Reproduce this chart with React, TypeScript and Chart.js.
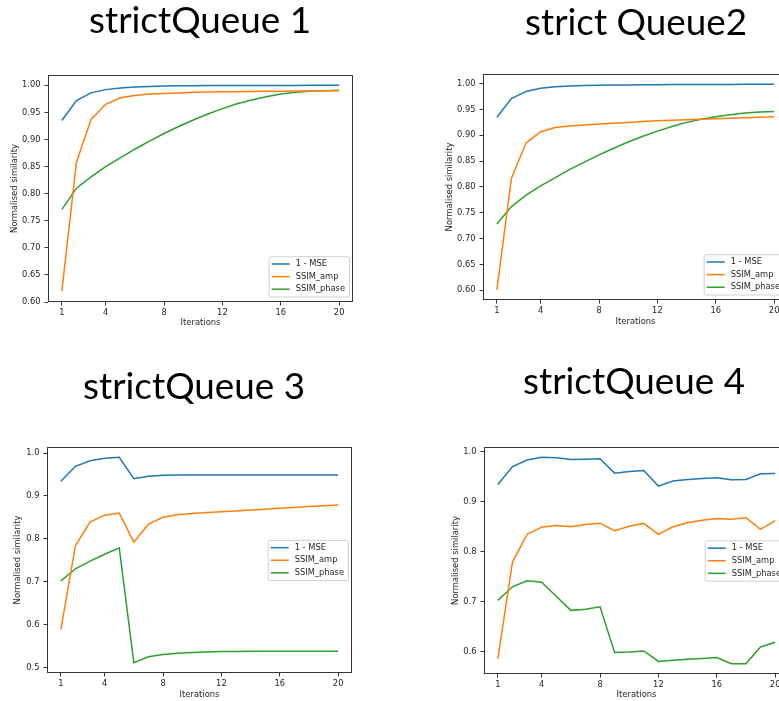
import React, { useEffect, useRef } from "react";
import { Chart, registerables } from "chart.js";

Chart.register(...registerables);

// ---------- data ----------
const iterations = [1, 2, 3, 4, 5, 6, 7, 8, 9, 10, 11, 12, 13, 14, 15, 16, 17, 18, 19, 20];
const xTickValues = [1, 4, 8, 12, 16, 20];
const seriesLabels = ["1 - MSE", "SSIM_amp", "SSIM_phase"];
const seriesColors = ["#1f77b4", "#ff7f0e", "#2ca02c"];
const chartTitles = ["strictQueue 1", "strict Queue2", "strictQueue 3", "strictQueue 4"];
const yAxisTitle = "Normalised similarity";
const xAxisTitle = "Iterations";

const q1Mse = [0.935, 0.972, 0.986, 0.992, 0.995, 0.997, 0.998, 0.9985, 0.999, 0.9992, 0.9994, 0.9995, 0.9996, 0.9997, 0.9997, 0.9998, 0.9998, 0.9999, 0.9999, 0.9999];
const q1Amp = [0.62, 0.858, 0.937, 0.965, 0.977, 0.981, 0.984, 0.985, 0.986, 0.987, 0.9875, 0.988, 0.9883, 0.9886, 0.9889, 0.9891, 0.9893, 0.9895, 0.9897, 0.99];
const q1Phase = [0.771, 0.81, 0.831, 0.85, 0.866, 0.882, 0.897, 0.911, 0.924, 0.936, 0.947, 0.957, 0.966, 0.973, 0.979, 0.984, 0.987, 0.989, 0.99, 0.991];

const q2Mse = [0.935, 0.971, 0.985, 0.991, 0.994, 0.9955, 0.9963, 0.997, 0.9973, 0.9976, 0.9978, 0.998, 0.9982, 0.9983, 0.9984, 0.9985, 0.9986, 0.9987, 0.9987, 0.9988];
const q2Amp = [0.601, 0.817, 0.885, 0.907, 0.915, 0.918, 0.92, 0.922, 0.9235, 0.925, 0.9265, 0.928, 0.929, 0.93, 0.931, 0.932, 0.933, 0.934, 0.935, 0.936];
const q2Phase = [0.728, 0.762, 0.784, 0.802, 0.818, 0.834, 0.848, 0.862, 0.875, 0.887, 0.898, 0.908, 0.917, 0.925, 0.931, 0.936, 0.94, 0.943, 0.945, 0.946];

const q3Mse = [0.934, 0.969, 0.982, 0.988, 0.99, 0.94, 0.946, 0.948, 0.9485, 0.9487, 0.9487, 0.9487, 0.9486, 0.9486, 0.9486, 0.9485, 0.9485, 0.9485, 0.9485, 0.9485];
const q3Amp = [0.589, 0.784, 0.839, 0.855, 0.86, 0.792, 0.834, 0.85, 0.856, 0.859, 0.861, 0.863, 0.865, 0.867, 0.869, 0.871, 0.873, 0.875, 0.877, 0.879];
const q3Phase = [0.702, 0.73, 0.748, 0.764, 0.779, 0.511, 0.525, 0.53, 0.533, 0.535, 0.536, 0.537, 0.537, 0.538, 0.538, 0.538, 0.538, 0.538, 0.538, 0.538];

const q4Mse = [0.934, 0.97, 0.983, 0.9887, 0.9874, 0.984, 0.9847, 0.9854, 0.9568, 0.96, 0.962, 0.931, 0.941, 0.944, 0.946, 0.9475, 0.9435, 0.944, 0.9555, 0.956];
const q4Amp = [0.5867, 0.7794, 0.8346, 0.849, 0.8525, 0.8498, 0.8545, 0.857, 0.842, 0.851, 0.8565, 0.8346, 0.8498, 0.858, 0.863, 0.8664, 0.865, 0.8678, 0.8445, 0.862];
const q4Phase = [0.703, 0.73, 0.742, 0.739, 0.711, 0.683, 0.685, 0.69, 0.599, 0.6, 0.602, 0.581, 0.5834, 0.5854, 0.587, 0.589, 0.5767, 0.5767, 0.61, 0.6193];

const yTicksFine = [0.6, 0.65, 0.7, 0.75, 0.8, 0.85, 0.9, 0.95, 1.0];
const yTicksQ3 = [0.5, 0.6, 0.7, 0.8, 0.9, 1.0];
const yTicksQ4 = [0.6, 0.7, 0.8, 0.9, 1.0];

// ---------- styling / layout ----------
const TICK_FONT = 8.3;
const TITLE_FONT = 8.4;
const LEG_FONT = 8.3;
const TEXT_COLOR = "#262626";
const AXIS_COLOR = "#353535";

type Rect = { l: number; t: number; w: number; h: number };
type Plot = { l: number; t: number; r: number; b: number };

type PanelCfg = {
  title: string;
  titleCx: number;
  titleBase: number;
  titleW: number;
  canvas: Rect;
  plot: Plot;
  yTitleX: number;
  xTitleY: number;
  yMin: number;
  yMax: number;
  yTicks: number[];
  decimals: number;
  series: number[][];
  legendLoc: "lower right" | "center right";
};

const panels: PanelCfg[] = [
  {
    title: chartTitles[0], titleCx: 200, titleBase: 33, titleW: 222,
    canvas: { l: 0, t: 60, w: 390, h: 280 },
    plot: { l: 48, t: 75, r: 353, b: 302 },
    yTitleX: 15, xTitleY: 323,
    yMin: 0.6, yMax: 1.019, yTicks: yTicksFine, decimals: 2,
    series: [q1Mse, q1Amp, q1Phase], legendLoc: "lower right",
  },
  {
    title: chartTitles[1], titleCx: 636, titleBase: 35, titleW: 222,
    canvas: { l: 390, t: 60, w: 420, h: 280 },
    plot: { l: 483, t: 74, r: 788, b: 300 },
    yTitleX: 450, xTitleY: 322,
    yMin: 0.581, yMax: 1.0187, yTicks: yTicksFine, decimals: 2,
    series: [q2Mse, q2Amp, q2Phase], legendLoc: "lower right",
  },
  {
    title: chartTitles[2], titleCx: 194, titleBase: 399, titleW: 222,
    canvas: { l: 0, t: 430, w: 390, h: 280 },
    plot: { l: 47, t: 447, r: 352, b: 673 },
    yTitleX: 18, xTitleY: 695,
    yMin: 0.487, yMax: 1.014, yTicks: yTicksQ3, decimals: 1,
    series: [q3Mse, q3Amp, q3Phase], legendLoc: "center right",
  },
  {
    title: chartTitles[3], titleCx: 634, titleBase: 394, titleW: 222,
    canvas: { l: 390, t: 430, w: 420, h: 280 },
    plot: { l: 484, t: 447, r: 789, b: 674 },
    yTitleX: 456, xTitleY: 695,
    yMin: 0.556, yMax: 1.009, yTicks: yTicksQ4, decimals: 1,
    series: [q4Mse, q4Amp, q4Phase], legendLoc: "center right",
  },
];

const framePlugin = {
  id: "mplFrame",
  afterDatasetsDraw(chart: any) {
    const { ctx, chartArea: a } = chart;
    ctx.save();
    ctx.strokeStyle = AXIS_COLOR;
    ctx.lineWidth = 1;
    ctx.strokeRect(Math.round(a.left) + 0.5, Math.round(a.top) + 0.5, Math.round(a.right - a.left) - 1, Math.round(a.bottom - a.top) - 1);
    ctx.restore();
  },
};

function makeLegendPlugin(loc: string) {
  return {
    id: "mplLegend",
    afterDraw(chart: any) {
      const { ctx, chartArea: a } = chart;
      const ds = chart.data.datasets;
      ctx.save();
      ctx.font = `${LEG_FONT}px "DejaVu Sans"`;
      const maxW = Math.max(...ds.map((d: any) => ctx.measureText(d.label).width));
      const padL = 3, lineLen = 18, gap = 6, padR = 4;
      const rowH = 12.6;
      const w = padL + lineLen + gap + maxW + padR;
      const h = ds.length * rowH + 2.5;
      const x = a.right - 4 - w;
      const y = loc === "lower right" ? a.bottom - 5.5 - h : (a.top + a.bottom) / 2 - h / 2;
      ctx.beginPath();
      ctx.roundRect(x + 0.5, y + 0.5, w, h, 2);
      ctx.fillStyle = "rgba(255,255,255,0.85)";
      ctx.fill();
      ctx.strokeStyle = "#d0d0d0";
      ctx.lineWidth = 1;
      ctx.stroke();
      ds.forEach((d: any, i: number) => {
        const cy = y + 1.5 + rowH * (i + 0.5);
        ctx.beginPath();
        ctx.moveTo(x + padL, cy);
        ctx.lineTo(x + padL + lineLen, cy);
        ctx.strokeStyle = d.borderColor;
        ctx.lineWidth = 1.5;
        ctx.stroke();
        ctx.fillStyle = TEXT_COLOR;
        ctx.textBaseline = "middle";
        ctx.textAlign = "left";
        ctx.fillText(d.label, x + padL + lineLen + gap, cy);
      });
      ctx.restore();
    },
  };
}

function Panel({ cfg }: { cfg: PanelCfg }) {
  const ref = useRef<HTMLCanvasElement | null>(null);
  useEffect(() => {
    const c = cfg.canvas;
    const p = cfg.plot;
    const lh = TITLE_FONT * 1.2;
    const canvasR = c.l + c.w;
    const canvasB = c.t + c.h;
    const chart = new Chart(ref.current as HTMLCanvasElement, {
      type: "line",
      data: {
        datasets: cfg.series.map((s, i) => ({
          label: seriesLabels[i],
          data: iterations.map((x, j) => ({ x, y: s[j] })),
          borderColor: seriesColors[i],
          backgroundColor: seriesColors[i],
          borderWidth: 1.5,
          pointRadius: 0,
          tension: 0,
          fill: false,
        })),
      },
      options: {
        animation: false,
        responsive: false,
        events: [],
        layout: { padding: { left: 0, top: p.t - c.t, right: canvasR - p.r, bottom: 0 } },
        plugins: { legend: { display: false }, tooltip: { enabled: false }, title: { display: false } },
        scales: {
          x: {
            type: "linear",
            min: 0.05,
            max: 20.95,
            afterBuildTicks: (s: any) => { s.ticks = xTickValues.map((v) => ({ value: v })); },
            afterFit: (s: any) => { s.height = canvasB - p.b; },
            border: { display: false },
            grid: { display: true, drawOnChartArea: false, drawTicks: true, tickLength: 3.5, color: AXIS_COLOR, tickColor: AXIS_COLOR },
            ticks: { autoSkip: false, maxRotation: 0, padding: 2.5, color: TEXT_COLOR, font: { family: "DejaVu Sans", size: TICK_FONT }, callback: (v: any) => String(v) },
            title: { display: true, text: xAxisTitle, color: TEXT_COLOR, font: { family: "DejaVu Sans", size: TITLE_FONT }, padding: { top: 0, bottom: canvasB - cfg.xTitleY - lh / 2 } },
          },
          y: {
            type: "linear",
            min: cfg.yMin,
            max: cfg.yMax,
            afterBuildTicks: (s: any) => { s.ticks = cfg.yTicks.map((v) => ({ value: v })); },
            afterFit: (s: any) => { s.width = p.l - c.l; },
            border: { display: false },
            grid: { display: true, drawOnChartArea: false, drawTicks: true, tickLength: 3.5, color: AXIS_COLOR, tickColor: AXIS_COLOR },
            ticks: { padding: 4, color: TEXT_COLOR, font: { family: "DejaVu Sans", size: TICK_FONT }, callback: (v: any) => Number(v).toFixed(cfg.decimals) },
            title: { display: true, text: yAxisTitle, color: TEXT_COLOR, font: { family: "DejaVu Sans", size: TITLE_FONT }, padding: { top: cfg.yTitleX - c.l - lh / 2, bottom: 0 } },
          },
        },
      },
      plugins: [framePlugin, makeLegendPlugin(cfg.legendLoc)],
    } as any);
    return () => chart.destroy();
  }, [cfg]);
  return (
    <canvas
      ref={ref}
      width={cfg.canvas.w}
      height={cfg.canvas.h}
      style={{ position: "absolute", left: cfg.canvas.l, top: cfg.canvas.t, width: cfg.canvas.w, height: cfg.canvas.h }}
    />
  );
}

export default function App() {
  return (
    <div style={{ position: "absolute", left: 0, top: 0, width: 779, height: 701, overflow: "hidden", background: "#fff" }}>
      {panels.map((cfg, i) => (
        <Panel key={i} cfg={cfg} />
      ))}
      <svg width={779} height={701} style={{ position: "absolute", left: 0, top: 0, pointerEvents: "none" }}>
        {panels.map((cfg, i) => (
          <text
            key={i}
            x={cfg.titleCx}
            y={cfg.titleBase}
            textAnchor="middle"
            fontFamily="Lato, 'Open Sans', sans-serif"
            fontSize={36}
            textLength={cfg.titleW}
            lengthAdjust="spacingAndGlyphs"
            fill="#000"
          >
            {cfg.title}
          </text>
        ))}
      </svg>
    </div>
  );
}
